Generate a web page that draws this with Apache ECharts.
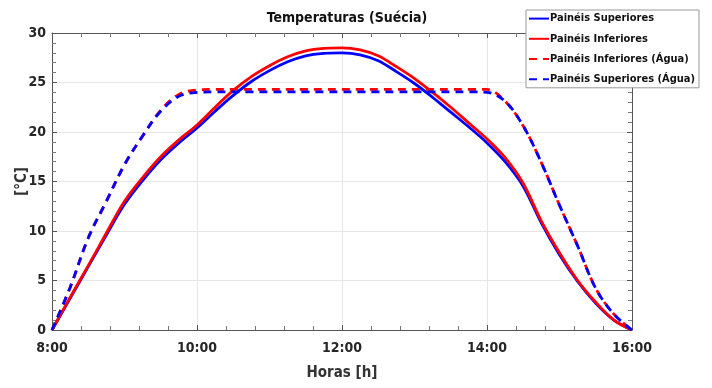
<!DOCTYPE html>
<html>
<head>
<meta charset="utf-8">
<script src="https://cdn.jsdelivr.net/npm/echarts@6/dist/echarts.min.js"></script>
<style>
  html, body { margin: 0; padding: 0; background: #fff; }
  #chart { width: 712px; height: 388px; }
</style>
</head>
<body>
<div id="chart"></div>
<script>
var FONT = "'Liberation Sans Narrow', 'DejaVu Sans Condensed', 'Liberation Sans', sans-serif";

// horas do dia (valor decimal)
var horas = [8, 8.25, 8.5, 8.75, 9, 9.25, 9.5, 9.75, 10, 10.25, 10.5, 10.75, 11, 11.25, 11.5, 11.75,
             12, 12.25, 12.5, 12.75, 13, 13.25, 13.5, 13.75, 14, 14.25, 14.5, 14.75, 15, 15.25, 15.5, 15.75, 16];

var paineisSuperiores = [0, 3.2, 6.4, 9.6, 12.7, 15.1, 17.2, 18.9, 20.4, 22.1, 23.7, 25.1, 26.2, 27.1, 27.7, 27.95,
                         28.0, 27.8, 27.2, 26.1, 24.9, 23.5, 22.0, 20.5, 18.9, 17.0, 14.5, 10.8, 7.6, 4.9, 2.7, 1.0, 0];
var paineisInferiores = [0, 3.3, 6.5, 9.8, 13.0, 15.4, 17.5, 19.2, 20.7, 22.5, 24.2, 25.6, 26.7, 27.6, 28.2, 28.45,
                         28.5, 28.3, 27.7, 26.6, 25.4, 24.0, 22.5, 20.9, 19.3, 17.4, 14.8, 11.0, 7.8, 5.0, 2.8, 1.0, 0];
var inferioresAgua = [0, 4.3, 9.3, 13.0, 16.7, 19.6, 22.2, 23.8, 24.25, 24.3, 24.3, 24.3, 24.3, 24.3, 24.3, 24.3,
                      24.3, 24.3, 24.3, 24.3, 24.3, 24.3, 24.3, 24.3, 24.3, 23.1, 20.6, 16.9, 12.6, 8.5, 4.2, 1.6, 0];
var superioresAgua = [0, 4.3, 9.3, 13.0, 16.7, 19.6, 22.1, 23.6, 24.0, 24.05, 24.05, 24.05, 24.05, 24.05, 24.05, 24.05,
                      24.05, 24.05, 24.05, 24.05, 24.05, 24.05, 24.05, 24.05, 24.0, 23.1, 20.6, 16.9, 12.6, 8.5, 4.2, 1.6, 0];

var nomes = ['Painéis Superiores', 'Painéis Inferiores', 'Painéis Inferiores (Água)', 'Painéis Superiores (Água)'];
var cores = ['#0000ff', '#ff0000', '#ff0000', '#0000ff'];
var valores = [paineisSuperiores, paineisInferiores, inferioresAgua, superioresAgua];

var chart = echarts.init(document.getElementById('chart'));

var series = [];
for (var s = 0; s < nomes.length; s++) {
    var pts = [];
    for (var i = 0; i < horas.length; i++) pts.push([horas[i], valores[s][i]]);
    series.push({
        name: nomes[s],
        type: 'line',
        smooth: 0.35,
        symbol: 'none',
        z: 2 + s,
        color: cores[s],
        lineStyle: { width: 2.8, color: cores[s], type: s >= 2 ? [8, 6] : 'solid' },
        data: pts
    });
}

var tickCommon = { show: true, inside: true, length: 5, lineStyle: { color: '#555' } };
var minorCommon = { show: true, splitNumber: 5, length: 4, lineStyle: { color: '#777' } };
var axisLineCommon = { show: true, onZero: false, lineStyle: { color: '#555', width: 1 } };

var option = {
    backgroundColor: '#fff',
    animation: false,
    title: {
        text: 'Temperaturas (Suécia)',
        left: 342, top: 6, textAlign: 'center',
        textStyle: { fontFamily: FONT, fontSize: 14, fontWeight: 'bold', color: '#111' }
    },
    legend: {
        data: nomes,
        orient: 'vertical',
        left: 526, top: 10,
        itemWidth: 20, itemHeight: 14, itemGap: 9,
        padding: [3, 4, 3, 2],
        backgroundColor: '#fff',
        borderColor: '#999', borderWidth: 1, borderRadius: 0,
        itemStyle: { opacity: 0 },
        textStyle: { fontFamily: FONT, fontSize: 11, fontWeight: 'bold', color: '#111', padding: [0, 0, 0, -4] }
    },
    grid: { left: 52, right: 80, top: 33, bottom: 58, containLabel: false, outerBoundsMode: 'none' },
    xAxis: [{
        type: 'value', min: 8, max: 16, interval: 2,
        name: 'Horas [h]', nameLocation: 'middle', nameGap: 36,
        nameTextStyle: { fontFamily: FONT, fontSize: 15, fontWeight: 'bold', color: '#333' },
        axisLine: axisLineCommon, axisTick: tickCommon, minorTick: minorCommon,
        splitLine: { show: true, lineStyle: { color: '#e6e6e6' } },
        axisLabel: {
            fontFamily: FONT, fontSize: 14, fontWeight: 'bold', color: '#262626', margin: 11,
            formatter: function (v) { return v + ':00'; }
        }
    }, {
        type: 'value', min: 8, max: 16, interval: 2, position: 'top',
        axisLine: axisLineCommon, axisTick: tickCommon, minorTick: minorCommon,
        splitLine: { show: false }, axisLabel: { show: false }
    }],
    yAxis: [{
        type: 'value', min: 0, max: 30, interval: 5,
        name: '[°C]', nameLocation: 'middle', nameGap: 22, nameRotate: 90,
        nameMoveOverlap: false,
        nameTextStyle: { fontFamily: FONT, fontSize: 15, fontWeight: 'bold', color: '#333' },
        axisLine: axisLineCommon, axisTick: tickCommon, minorTick: minorCommon,
        splitLine: { show: true, lineStyle: { color: '#e6e6e6' } },
        axisLabel: { fontFamily: FONT, fontSize: 14, fontWeight: 'bold', color: '#262626', margin: 6 }
    }, {
        type: 'value', min: 0, max: 30, interval: 5, position: 'right',
        axisLine: axisLineCommon, axisTick: tickCommon, minorTick: minorCommon,
        splitLine: { show: false }, axisLabel: { show: false }
    }],
    series: series
};

chart.setOption(option);
</script>
</body>
</html>
